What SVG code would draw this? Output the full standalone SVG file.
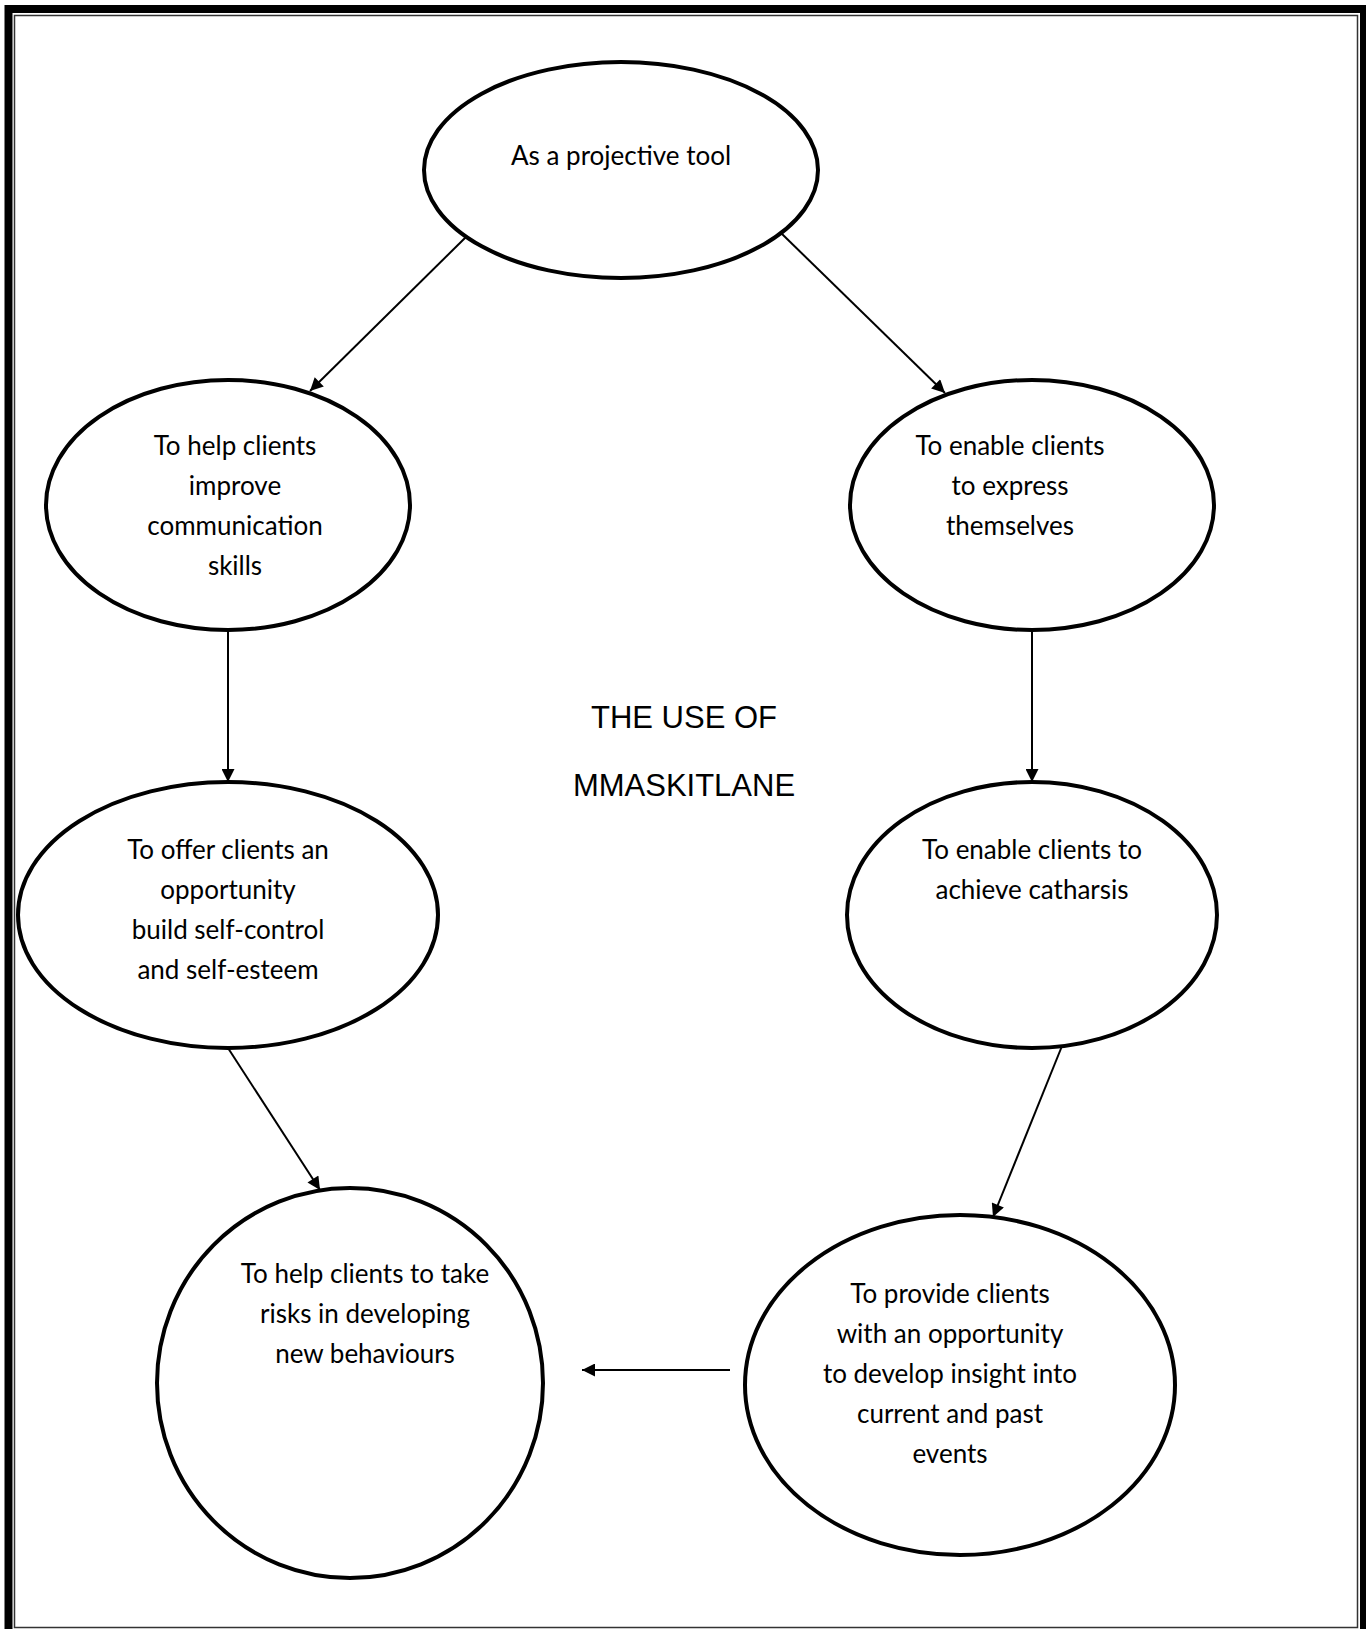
<svg xmlns="http://www.w3.org/2000/svg" width="1366" height="1630" viewBox="0 0 1366 1630">
  <style>
    .node ellipse { fill: #ffffff; stroke: #000000; stroke-width: 4; }
    .node text { font-family: Lato, "Liberation Sans", sans-serif; font-size: 26px; fill: #000000; text-anchor: middle; }
    .title text { font-family: "Liberation Sans", Arial, sans-serif; font-size: 31px; fill: #000000; text-anchor: middle; }
    .edges line { stroke: #000000; stroke-width: 2; marker-end: url(#arrow); }
  </style>
  <defs>
    <marker id="arrow" viewBox="0 0 10 10" refX="10" refY="5" markerWidth="8.5" markerHeight="6.5" markerUnits="strokeWidth" orient="auto">
      <path d="M0,0 L10,5 L0,10 Z" fill="#000000"/>
    </marker>
  </defs>

  <rect width="1366" height="1630" fill="#ffffff"/>

  <!-- page frame: thick outer rule, thin inner rule -->
  <g id="frame" fill="none">
    <path d="M8.5,1629 V9 H1364 V1629" stroke="#000000" stroke-width="8"/>
    <rect x="14.5" y="15.5" width="1343" height="1612" stroke="#333333" stroke-width="1.5"/>
  </g>

  <g id="n-projective" class="node">
    <ellipse cx="621" cy="170" rx="197" ry="108"/>
    <text x="621" y="165">As a projective tool</text>
  </g>

  <g id="n-communication" class="node">
    <ellipse cx="228" cy="505" rx="182" ry="125"/>
    <text x="235" y="455">To help clients</text>
    <text x="235" y="495">improve</text>
    <text x="235" y="535">communication</text>
    <text x="235" y="575">skills</text>
  </g>

  <g id="n-express" class="node">
    <ellipse cx="1032" cy="505" rx="182" ry="125"/>
    <text x="1010" y="455">To enable clients</text>
    <text x="1010" y="495">to express</text>
    <text x="1010" y="535">themselves</text>
  </g>

  <g id="n-selfcontrol" class="node">
    <ellipse cx="228" cy="915" rx="210" ry="133"/>
    <text x="228" y="859">To offer clients an</text>
    <text x="228" y="899">opportunity</text>
    <text x="228" y="939">build self-control</text>
    <text x="228" y="979">and self-esteem</text>
  </g>

  <g id="n-catharsis" class="node">
    <ellipse cx="1032" cy="915" rx="185" ry="133"/>
    <text x="1032" y="859">To enable clients to</text>
    <text x="1032" y="899">achieve catharsis</text>
  </g>

  <g id="n-risks" class="node">
    <ellipse cx="350" cy="1383" rx="193" ry="195"/>
    <text x="365" y="1283">To help clients to take</text>
    <text x="365" y="1323">risks in developing</text>
    <text x="365" y="1363">new behaviours</text>
  </g>

  <g id="n-insight" class="node">
    <ellipse cx="960" cy="1385" rx="215" ry="170"/>
    <text x="950" y="1303">To provide clients</text>
    <text x="950" y="1343">with an opportunity</text>
    <text x="950" y="1383">to develop insight into</text>
    <text x="950" y="1423">current and past</text>
    <text x="950" y="1463">events</text>
  </g>

  <g id="title" class="title">
    <text x="684" y="728">THE USE OF</text>
    <text x="684" y="796">MMASKITLANE</text>
  </g>

  <g id="connectors" class="edges">
    <line x1="466" y1="237" x2="310" y2="391"/>
    <line x1="781" y1="233" x2="945" y2="393"/>
    <line x1="228" y1="630" x2="228" y2="782"/>
    <line x1="1032" y1="630" x2="1032" y2="782"/>
    <line x1="228" y1="1048" x2="320" y2="1190"/>
    <line x1="1062" y1="1046" x2="993" y2="1217"/>
    <line x1="730" y1="1370" x2="582" y2="1370"/>
  </g>
</svg>
